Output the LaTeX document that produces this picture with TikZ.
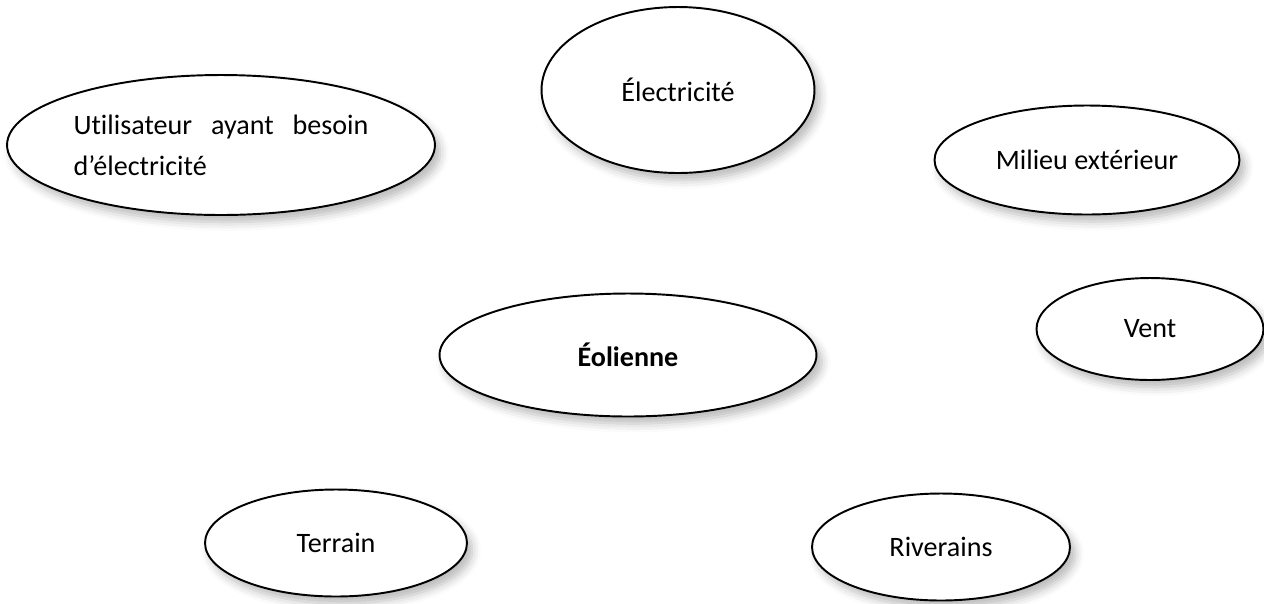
\documentclass[tikz,border=0pt]{standalone}
\usepackage{fontspec}
\setmainfont{Carlito}[Ligatures={NoCommon}]
\usepackage{tikz}
\usetikzlibrary{shapes.geometric, shadows.blur}

\begin{document}
\begin{tikzpicture}[
    x=0.02cm, y=-0.02cm,  % one unit = one pixel of the sketch
    font=\fontsize{16}{23.5}\selectfont,
    actor/.style={
      ellipse,
      draw,
      line width=1.1pt,
      fill=white,
      inner sep=0pt,
      align=center,
      blur shadow={shadow xshift=3pt, shadow yshift=-4pt,
                   shadow blur radius=5pt, shadow opacity=28}
    }
]
\useasboundingbox (0,0) rectangle (1264,603);
\node[actor, minimum width=8.56cm, minimum height=2.8cm] (user) at (221,145)
  {\raisebox{0.16cm}{\parbox{5.9cm}{\hbox to 5.9cm{Utilisateur\hfil ayant\hfil besoin}
   \hbox{d'électricité}}}};
\node[actor, minimum width=5.46cm, minimum height=3.32cm] (elec) at (678,90) {Électricité};
\node[actor, minimum width=6.1cm, minimum height=2.18cm] (milieu) at (1087,160) {Milieu extérieur};
\node[actor, minimum width=4.54cm, minimum height=2.04cm] (vent) at (1150,329) {Vent};
\node[actor, minimum width=7.54cm, minimum height=2.46cm] (eolienne) at (628,355) {\textbf{Éolienne}};
\node[actor, minimum width=5.24cm, minimum height=2.14cm] (terrain) at (336,543) {Terrain};
\node[actor, minimum width=5.16cm, minimum height=2.14cm] (riverains) at (941,547) {Riverains};
\end{tikzpicture}
\end{document}
